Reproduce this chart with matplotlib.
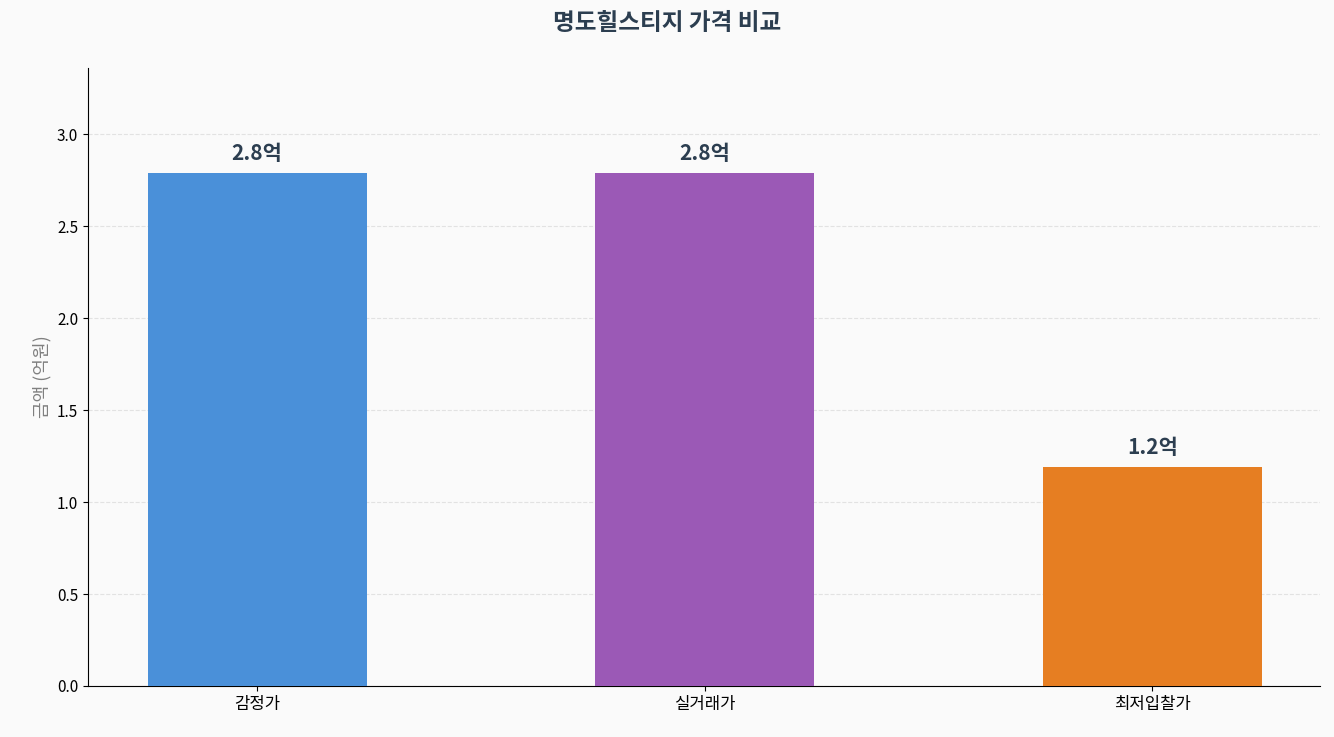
import matplotlib
matplotlib.use("Agg")
import matplotlib.pyplot as plt

plt.rcParams['font.family'] = ['Noto Sans CJK KR', 'DejaVu Sans']

categories = ['감정가', '실거래가', '최저입찰가']
values = [2.79, 2.79, 1.19]
labels = ['2.8억', '2.8억', '1.2억']
colors = ['#4A90D9', '#9B59B6', '#E67E22']

fig = plt.figure(figsize=(13.34, 7.37), dpi=100, facecolor='#FAFAFA')
ax = fig.add_axes([88/1334, 1-686/737, (1320-88)/1334, (686-68)/737])
ax.set_facecolor('#FAFAFA')
bars = ax.bar(range(len(categories)), values, width=0.49, color=colors, zorder=3)
for b, lab in zip(bars, labels):
    ax.text(b.get_x()+b.get_width()/2, b.get_height()+0.05, lab, ha='center', va='bottom',
            fontsize=15, fontweight='bold', color='#2C3E50')
ax.set_xticks(range(len(categories)))
ax.set_xticklabels(categories, fontsize=12)
ax.set_xlim(-0.378, 2.375)
ax.set_ylim(0, 3.36)
ax.set_yticks([0, 0.5, 1.0, 1.5, 2.0, 2.5, 3.0])
ax.set_yticklabels(['0.0', '0.5', '1.0', '1.5', '2.0', '2.5', '3.0'], fontsize=11)
ax.set_ylabel('금액 (억원)', fontsize=13, color='#7F7F7F')
ax.grid(axis='y', linestyle='--', color='#DDDDDD', alpha=0.8, zorder=0)
ax.spines['top'].set_visible(False)
ax.spines['right'].set_visible(False)
fig.suptitle('명도힐스티지 가격 비교', fontsize=17, fontweight='bold', color='#2C3E50', y=0.985)
fig.savefig('out.png', dpi=100, facecolor='#FAFAFA')
